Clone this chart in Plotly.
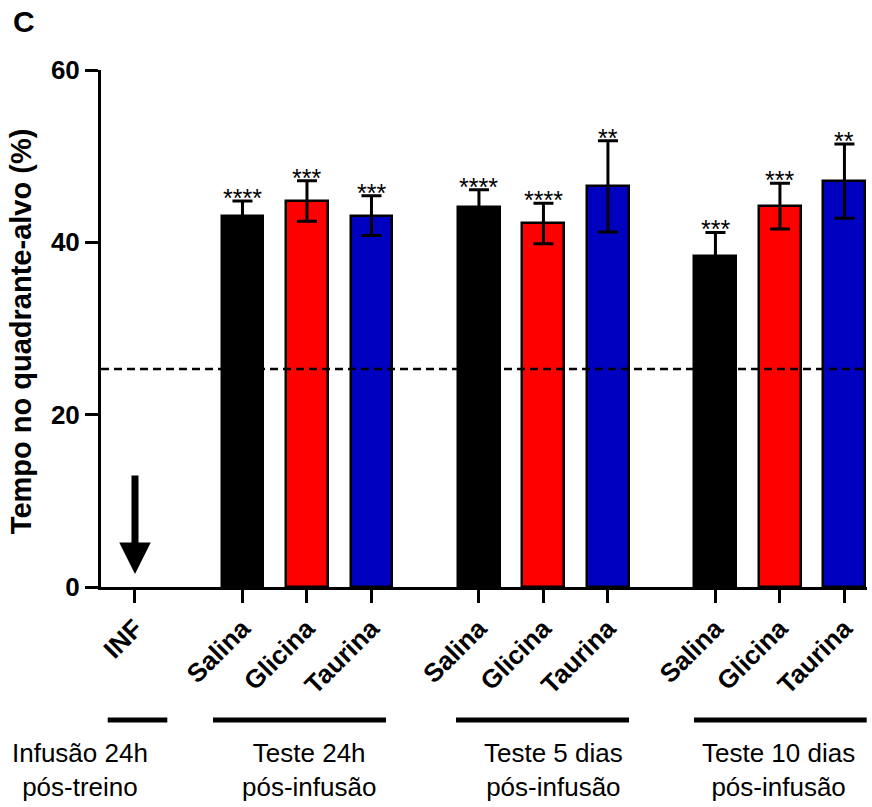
import plotly.graph_objects as go

# ---- data ----
groups = ["Teste 24h<br>pós-infusão", "Teste 5 dias<br>pós-infusão", "Teste 10 dias<br>pós-infusão"]
inf_label = "INF"
inf_group = "Infusão 24h<br>pós-treino"
treatments = ["Salina", "Glicina", "Taurina"]
salina_mean = [43.0, 44.1, 38.4]
salina_sem = [1.8, 2.0, 2.75]
glicina_mean = [44.8, 42.2, 44.2]
glicina_sem = [2.35, 2.35, 2.65]
taurina_mean = [43.1, 46.5, 47.1]
taurina_sem = [2.3, 5.3, 4.3]
salina_stars = ["****", "****", "***"]
glicina_stars = ["***", "****", "***"]
taurina_stars = ["***", "**", "**"]
chance_level = 25.3
y_ticks = [0, 20, 40, 60]
arrow_top, arrow_tip = 13.1, 1.5

colors = ["#000000", "#FF0000", "#0000C0"]
means = [salina_mean, glicina_mean, taurina_mean]
sems = [salina_sem, glicina_sem, taurina_sem]
stars = [salina_stars, glicina_stars, taurina_stars]

# layout of category positions
start, step = 5/3, 11/3
def pos(g, i):
    return start + g * step + i

FONT = "Arial, Liberation Sans"

fig = go.Figure()
for i, t in enumerate(treatments):
    xs = [pos(g, i) for g in range(3)]
    fig.add_trace(go.Bar(
        x=xs, y=means[i], width=0.65,
        marker=dict(color=colors[i], line=dict(color="black", width=2.5)),
        error_y=dict(type="data", array=sems[i], color="black", thickness=3, width=10),
        showlegend=False,
    ))
    for g in range(3):
        fig.add_annotation(x=xs[g], y=means[i][g] + sems[i][g], text=stars[i][g],
                           showarrow=False, yanchor="bottom", yshift=-13,
                           font=dict(family=FONT, size=25, color="black"))

tickvals = [0] + [pos(g, i) for g in range(3) for i in range(3)]
ticktext = [inf_label] + [treatments[i] for g in range(3) for i in range(3)]

fig.update_layout(
    width=872, height=807,
    margin=dict(l=101, r=5, t=70, b=220),
    paper_bgcolor="white", plot_bgcolor="white",
    font=dict(family=FONT, color="black"),
    bargap=0,
)
fig.update_xaxes(range=[-0.527, 11.35], tickvals=tickvals, ticktext=ticktext,
                 tickangle=-45, ticks="outside", ticklen=13, tickwidth=2.5, tickcolor="black",
                 showline=True, linewidth=3, linecolor="black", showgrid=False, zeroline=False,
                 tickfont=dict(size=26, weight="bold", family=FONT))
fig.update_yaxes(range=[0, 60], tickvals=y_ticks, ticks="outside", ticklen=13, tickwidth=3,
                 tickcolor="black", showline=True, linewidth=3, linecolor="black",
                 showgrid=False, zeroline=False,
                 tickfont=dict(size=26, weight="bold", family=FONT))

# chance line
fig.add_shape(type="line", xref="paper", x0=0, x1=1, yref="y", y0=chance_level, y1=chance_level,
              line=dict(color="black", width=2.5, dash="8px,5px"))

# arrow at INF
fig.add_annotation(x=0, y=arrow_tip, ax=0, ay=arrow_top, axref="x", ayref="y", xref="x", yref="y",
                   text="", showarrow=True, arrowhead=2, arrowwidth=7, arrowsize=0.9, arrowcolor="black")

# y title
fig.add_annotation(xref="paper", yref="paper", x=-0.1044, y=0.493, text="Tempo no quadrante-alvo (%)",
                   textangle=-90, showarrow=False, xanchor="center", yanchor="middle",
                   font=dict(size=29, weight="bold", family=FONT))
# panel letter
fig.add_annotation(xref="paper", yref="paper", x=-0.1005, y=1.094, text="C", showarrow=False,
                   xanchor="center", yanchor="middle",
                   font=dict(size=30, weight="bold", family=FONT))

# group lines and labels (pixel positions converted to paper)
def px2paper_x(px):
    return (px - 101) / 766
def py2paper_y(py):
    return (587 - py) / 517

line_spans = [(107.7, 167.3), (213, 386), (456, 629), (694, 866.7)]
label_centers = [80, 309, 553, 778.5]
labels = [inf_group] + groups
for (a, b), c, lab in zip(line_spans, label_centers, labels):
    fig.add_shape(type="line", xref="paper", yref="paper",
                  x0=px2paper_x(a), x1=px2paper_x(b), y0=py2paper_y(720), y1=py2paper_y(720),
                  line=dict(color="black", width=5))
    fig.add_annotation(xref="paper", yref="paper", x=px2paper_x(c), y=py2paper_y(770),
                       text=lab, showarrow=False, xanchor="center", yanchor="middle",
                       font=dict(size=26, family=FONT, color="black"))

fig.write_html("out.html", config={"displayModeBar": False},
               post_script="document.body.style.margin='0';document.body.style.overflow='hidden';")
